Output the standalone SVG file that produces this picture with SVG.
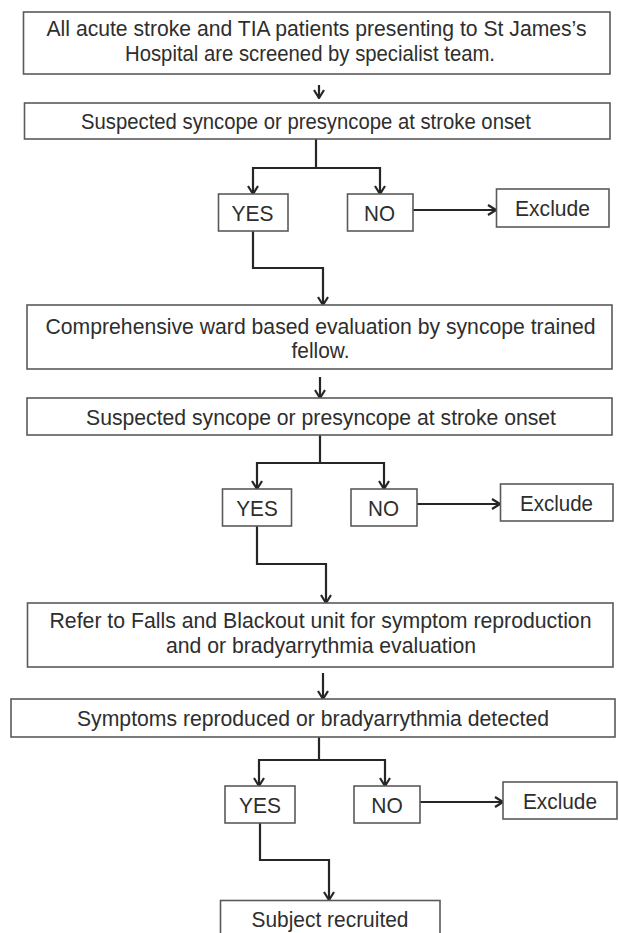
<svg xmlns="http://www.w3.org/2000/svg" width="619" height="933" viewBox="0 0 619 933">
<style>
.box{fill:#fff;stroke:#5a5a5a;stroke-width:1.6}
.t{font-family:"Liberation Sans",Arial,sans-serif;font-size:21.5px;fill:#2e2e2e;text-anchor:middle}
.c{fill:none;stroke:#262626;stroke-width:2.2}
.a{marker-end:url(#ah)}
</style>
<defs>
<marker id="ah" markerUnits="userSpaceOnUse" viewBox="0 0 10 12" refX="9" refY="6" markerWidth="10" markerHeight="12" orient="auto">
<path d="M1,1 L9,6 L1,11" fill="none" stroke="#262626" stroke-width="2.2"/>
</marker>
</defs>
<rect width="619" height="933" fill="#fff"/>
<g id="connectors">
<path class="c a" d="M319,85 V98"/>
<path class="c" d="M316,139 V168"/>
<path class="c a" d="M316,168 H253 V194"/>
<path class="c a" d="M316,168 H380 V194"/>
<path class="c a" d="M413,210 H496"/>
<path class="c a" d="M253,231 V268 H323 V305"/>
<path class="c a" d="M320,377 V398"/>
<path class="c" d="M320,435 V463"/>
<path class="c a" d="M320,463 H257 V489"/>
<path class="c a" d="M320,463 H384 V489"/>
<path class="c a" d="M417,504 H500"/>
<path class="c a" d="M257,526 V564 H326 V603"/>
<path class="c a" d="M323,673 V699"/>
<path class="c" d="M319,737 V760"/>
<path class="c a" d="M319,760 H259 V786"/>
<path class="c a" d="M319,760 H385 V786"/>
<path class="c a" d="M420,802 H503"/>
<path class="c a" d="M260,823 V860 H329 V900"/>
</g>
<g id="n1"><rect class="box" x="23.5" y="12" width="586.5" height="62"/>
<text class="t" x="316.5" y="36" textLength="540" lengthAdjust="spacingAndGlyphs">All acute stroke and TIA patients presenting to St James’s</text>
<text class="t" x="310" y="60.5" textLength="370" lengthAdjust="spacingAndGlyphs">Hospital are screened by specialist team.</text></g>
<g id="n2"><rect class="box" x="24.5" y="103" width="585.5" height="36"/>
<text class="t" x="306" y="129" textLength="450" lengthAdjust="spacingAndGlyphs">Suspected syncope or presyncope at stroke onset</text></g>
<g id="yes1"><rect class="box" x="218.5" y="194" width="69.5" height="37"/>
<text class="t" x="252.5" y="220.5" textLength="42" lengthAdjust="spacingAndGlyphs">YES</text></g>
<g id="no1"><rect class="box" x="347.5" y="194" width="65.5" height="37"/>
<text class="t" x="379.5" y="220.5" textLength="31" lengthAdjust="spacingAndGlyphs">NO</text></g>
<g id="ex1"><rect class="box" x="496.5" y="189" width="112.5" height="38"/>
<text class="t" x="552.5" y="216" textLength="75" lengthAdjust="spacingAndGlyphs">Exclude</text></g>
<g id="n3"><rect class="box" x="27" y="305" width="585" height="64"/>
<text class="t" x="320.5" y="333.5" textLength="550" lengthAdjust="spacingAndGlyphs">Comprehensive ward based evaluation by syncope trained</text>
<text class="t" x="320.5" y="357.5" textLength="58" lengthAdjust="spacingAndGlyphs">fellow.</text></g>
<g id="n4"><rect class="box" x="27" y="398" width="585" height="37"/>
<text class="t" x="321" y="425" textLength="470" lengthAdjust="spacingAndGlyphs">Suspected syncope or presyncope at stroke onset</text></g>
<g id="yes2"><rect class="box" x="222.5" y="489" width="69" height="37"/>
<text class="t" x="257" y="515.5" textLength="41.5" lengthAdjust="spacingAndGlyphs">YES</text></g>
<g id="no2"><rect class="box" x="351" y="489" width="66" height="37"/>
<text class="t" x="383.5" y="515.5" textLength="31" lengthAdjust="spacingAndGlyphs">NO</text></g>
<g id="ex2"><rect class="box" x="500.5" y="484" width="112.5" height="37"/>
<text class="t" x="556.5" y="510.5" textLength="73" lengthAdjust="spacingAndGlyphs">Exclude</text></g>
<g id="n5"><rect class="box" x="27.5" y="603" width="585.5" height="64"/>
<text class="t" x="320.5" y="628" textLength="542" lengthAdjust="spacingAndGlyphs">Refer to Falls and Blackout unit for symptom reproduction</text>
<text class="t" x="321" y="652.5" textLength="310" lengthAdjust="spacingAndGlyphs">and or bradyarrythmia evaluation</text></g>
<g id="n6"><rect class="box" x="11" y="699" width="604" height="38"/>
<text class="t" x="313" y="726" textLength="472" lengthAdjust="spacingAndGlyphs">Symptoms reproduced or bradyarrythmia detected</text></g>
<g id="yes3"><rect class="box" x="225" y="786" width="70" height="37"/>
<text class="t" x="260" y="812.5" textLength="42" lengthAdjust="spacingAndGlyphs">YES</text></g>
<g id="no3"><rect class="box" x="354" y="786" width="66" height="37"/>
<text class="t" x="387" y="812.5" textLength="31.5" lengthAdjust="spacingAndGlyphs">NO</text></g>
<g id="ex3"><rect class="box" x="503" y="782" width="114" height="37"/>
<text class="t" x="560" y="808.5" textLength="74" lengthAdjust="spacingAndGlyphs">Exclude</text></g>
<g id="n7"><rect class="box" x="220.5" y="900.5" width="219.5" height="45"/>
<text class="t" x="330" y="926.5" textLength="157" lengthAdjust="spacingAndGlyphs">Subject recruited</text></g>
</svg>
